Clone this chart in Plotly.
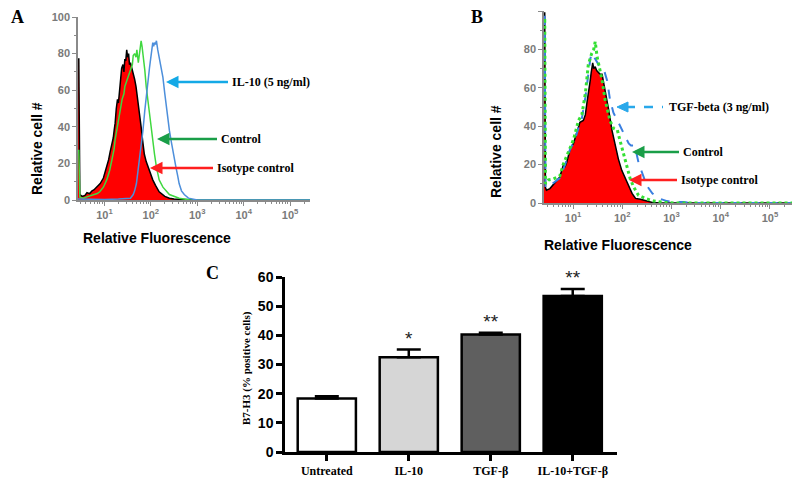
import plotly.graph_objects as go

W, H = 800, 482
# the saved page puts the figure 8px in from the top-left corner (body margin), so all
# layout positions below are given in reference pixels and shifted back by this amount
OFF = 8

# ---- panel A: flow histograms (fluorescence, relative cell #) ----
a_iso_x = [2.69, 2.8, 2.95, 3.3, 3.8, 4.2, 4.8, 5.4, 5.9, 6.9, 8.1, 9.5, 11.2, 12.3, 13.2, 14.5, 15.5, 16.2,
           17.0, 18.0, 19.1, 20.0, 21.4, 22.4, 23.5, 25.1, 26.3, 27.5, 28.8, 30.2, 31.6, 33.1, 34.7, 36.3,
           38.0, 41.7, 44.7, 47.9, 52.5, 56.2, 61.7, 66.1, 72.4, 79.4, 87.1, 97.7, 110, 126, 151, 200, 251,
           316, 479, 700, 1000, 269000]
a_iso_y = [77, 77, 3, 2, 2.5, 4, 3.5, 5, 5.5, 7, 9, 12, 18, 22, 26, 30, 34, 38, 42, 50, 55, 53, 62, 66, 72,
           74, 70, 77, 76, 82, 78, 80, 74, 75, 73, 70, 66, 62, 55, 49, 40, 33, 25, 21, 18, 14, 11, 8, 4.5, 2,
           1, 0.5, 0.3, 0, 0, 0]

a_ctl_x = [2.69, 2.8, 2.95, 3.5, 4.5, 5.9, 7.0, 7.9, 9.5, 11.2, 12.9, 14.5, 16.2, 17.0, 19.1, 21.4, 24.0,
           26.3, 27.5, 30.2, 33.1, 36.3, 40.0, 41.7, 44.7, 47.9, 50.0, 53.7, 56.2, 58.9, 61.7, 64.6, 70.8,
           74.1, 79.4, 87.1, 95.5, 102, 110, 120, 132, 141, 151, 182, 251, 407, 700, 269000]
a_ctl_y = [27, 27, 1.5, 1, 2, 3, 3.5, 4.5, 7, 11, 16, 22, 28, 33, 41, 49, 55, 58, 62, 65, 68, 71, 74, 79,
           80, 78, 82, 75, 80, 85, 87, 84, 76, 71, 62, 53, 44, 38, 30, 25, 18, 15, 11, 7, 3, 1, 0, 0]

a_il10_x = [2.69, 5.0, 10, 20, 30.2, 36.3, 41.7, 44.7, 48.9, 52.5, 56.2, 61.7, 67.6, 74.1, 79.4, 87.1, 93.3,
            97.7, 102, 107, 110, 115, 120, 126, 132, 141, 151, 166, 182, 200, 214, 234, 251, 275, 295, 316,
            347, 380, 407, 457, 525, 646, 776, 1000, 269000]
a_il10_y = [0.5, 0.3, 0.3, 0.5, 0.8, 1, 3, 5, 9, 15, 21, 29, 38, 49, 57, 67, 72, 76, 80, 84, 86, 84, 86, 85,
            87, 82, 78, 72, 67, 58, 51, 42, 38, 32, 27, 22, 18, 13, 9, 5, 3, 1, 0.5, 0, 0]

# ---- panel B ----
b_iso_x = [2.57, 2.66, 2.75, 2.88, 3.39, 3.8, 4.27, 4.8, 5.37, 6.31, 6.9, 7.41, 8.71, 10.2, 11.7, 13.8, 16.2,
           17.8, 19.1, 20.9, 22.4, 23.4, 25.1, 26.3, 28.2, 30.2, 33.1, 35.5, 38.9, 41.7, 44.7, 52.5, 61.7,
           72.4, 83.2, 97.7, 115, 135, 158, 186, 234, 316, 407, 600, 371000]
b_iso_y = [99, 99, 8, 6.7, 7.5, 9, 11, 12, 13.5, 19.5, 19, 21, 28, 31, 36, 42, 43, 46, 52, 58, 64, 68, 73,
           70, 71, 69, 68, 67, 67, 63, 57, 49, 38, 30, 23, 17, 12.6, 8.4, 5, 2.4, 2, 1, 0.3, 0, 0]

b_ctl_x = [2.57, 2.66, 2.75, 3.16, 4.0, 5.37, 6.31, 7.94, 10.2, 12.9, 15.1, 17.8, 20.4, 24.0, 26.3, 28.2,
           30.9, 34.7, 38.9, 44.7, 50.1, 56.2, 66.1, 79.4, 89.1, 105, 123, 145, 170, 214, 295, 437, 708,
           1200, 371000]
b_ctl_y = [95, 95, 10, 12, 12.5, 14, 20, 26, 33, 43, 46, 57, 72, 78, 80, 84, 76, 70, 64, 54, 48, 43, 39, 38,
           33, 26, 19.5, 12.6, 8.4, 4, 2.4, 1, 0.3, 0, 0]

b_tgf_x = [2.57, 2.66, 2.75, 3.39, 5.37, 6.9, 8.71, 10.5, 12.9, 15.1, 17.8, 20.0, 22.4, 24.0, 26.9, 30.2,
           33.1, 41.7, 49.0, 56.2, 66.1, 83.2, 105, 135, 150, 170, 190, 214, 251, 316, 407, 550, 813, 1200,
           1738, 2500, 371000]
b_tgf_y = [97, 97, 8, 9, 13, 20, 28, 32, 39, 44, 55, 66, 75, 78, 76, 74, 72, 70, 64, 54, 47, 42, 37, 31, 30,
           30, 27, 21, 16, 9, 5, 2.4, 1, 0.5, 0.5, 0, 0]

# ---- panel C: bar chart ----
groups = ["Untreated", "IL-10", "TGF-β", "IL-10+TGF-β"]
pct_positive = [18.3, 32.5, 40.3, 53.5]
pct_err = [0.8, 2.6, 0.6, 2.4]
signif = ["", "*", "**", "**"]
bar_colors = ["#ffffff", "#d6d6d6", "#5f5f5f", "#000000"]

decades = [10, 100, 1000, 10000, 100000]
decade_text = ["10<sup>1</sup>", "10<sup>2</sup>", "10<sup>3</sup>", "10<sup>4</sup>", "10<sup>5</sup>"]


def pp(x, y):
    # reference pixel -> paper fraction (margins are zero)
    return (x - OFF) / W, 1 - (y - OFF) / H


def dom_x(a, b):
    return [pp(a, 0)[0], pp(b, 0)[0]]


def dom_y(top, bottom):
    return [pp(0, bottom)[1], pp(0, top)[1]]


GRAY = "#8a8a8a"
tick_gray = dict(family="Liberation Sans", size=11, color="#7a7a7a", weight="bold")

fig = go.Figure()

fig.add_trace(go.Scatter(x=a_iso_x, y=a_iso_y, mode="lines", fill="tozeroy", fillcolor="#ff0000",
                         line=dict(color="black", width=1.5), xaxis="x", yaxis="y"))
fig.add_trace(go.Scatter(x=a_ctl_x, y=a_ctl_y, mode="lines", line=dict(color="#3fd83f", width=1.5),
                         xaxis="x", yaxis="y"))
fig.add_trace(go.Scatter(x=a_il10_x, y=a_il10_y, mode="lines", line=dict(color="#4d8fdb", width=1.5),
                         xaxis="x", yaxis="y"))

fig.add_trace(go.Scatter(x=b_iso_x, y=b_iso_y, mode="lines", fill="tozeroy", fillcolor="#ff0000",
                         line=dict(color="black", width=1.5), xaxis="x2", yaxis="y2"))
fig.add_trace(go.Scatter(x=b_tgf_x, y=b_tgf_y, mode="lines", line=dict(color="#3a7fe0", width=2, dash="dash"),
                         xaxis="x2", yaxis="y2"))
fig.add_trace(go.Scatter(x=b_ctl_x, y=b_ctl_y, mode="lines", line=dict(color="#33e033", width=3, dash="dot"),
                         xaxis="x2", yaxis="y2"))

fig.add_trace(go.Bar(x=groups, y=pct_positive, width=0.71,
                     marker=dict(color=bar_colors, line=dict(color="black", width=2.5)),
                     error_y=dict(type="data", symmetric=False, array=pct_err, arrayminus=[0] * 4,
                                  color="black", thickness=2.5, width=12),
                     xaxis="x3", yaxis="y3"))
starred = [i for i, s in enumerate(signif) if s]
fig.add_trace(go.Scatter(x=[groups[i] for i in starred],
                         y=[pct_positive[i] + pct_err[i] for i in starred],
                         text=[signif[i] for i in starred], mode="text", textposition="top center",
                         textfont=dict(family="Liberation Sans", size=19, color="#222"), cliponaxis=False,
                         xaxis="x3", yaxis="y3"))

hist_x = dict(type="log", showline=True, linecolor=GRAY, linewidth=1.5, ticks="outside", tickcolor=GRAY,
              ticklen=4, tickvals=decades, ticktext=decade_text, tickfont=tick_gray, showgrid=False,
              zeroline=False, automargin=False,
              minor=dict(ticks="outside", ticklen=2, tickcolor=GRAY, dtick="D1", showgrid=False))
hist_y = dict(range=[0, 100], dtick=20, showline=True, linecolor=GRAY, linewidth=1.5, ticks="outside",
              tickcolor=GRAY, ticklen=4, tickfont=tick_gray, showgrid=False, zeroline=False, automargin=False,
              minor=dict(ticks="outside", ticklen=2, tickcolor=GRAY, dtick=10, showgrid=False))

fig.update_layout(
    width=W, height=H, margin=dict(l=0, r=0, t=0, b=0, autoexpand=False), showlegend=False,
    paper_bgcolor="white", plot_bgcolor="white",
    xaxis=dict(hist_x, domain=dom_x(78, 310), range=[0.43, 5.43], anchor="y"),
    yaxis=dict(hist_y, domain=dom_y(17, 200), anchor="x"),
    xaxis2=dict(hist_x, domain=dom_x(544, 798), range=[0.41, 5.57], anchor="y2"),
    yaxis2=dict(hist_y, domain=dom_y(11, 203), anchor="x2"),
    xaxis3=dict(domain=dom_x(285, 617), range=[-0.51, 3.54], anchor="y3", showline=True,
                linecolor="black", linewidth=2.5, ticks="outside", ticklen=6, tickwidth=2.5, tickcolor="black",
                tickfont=dict(family="Liberation Serif", size=12, color="black", weight="bold"),
                showgrid=False, zeroline=False, automargin=False),
    yaxis3=dict(domain=dom_y(277, 452), range=[0, 60], dtick=10, anchor="x3", showline=True,
                linecolor="black", linewidth=2.5, ticks="outside", ticklen=6, tickwidth=2.5, tickcolor="black",
                tickfont=dict(family="Liberation Sans", size=14, color="black", weight="bold"),
                showgrid=False, zeroline=False, automargin=False),
)

ann = []
serif_b = dict(family="Liberation Serif", size=12, color="black", weight="bold")
sans_b = dict(family="Liberation Sans", size=14, color="black", weight="bold")


def add_text(text, x, y, font, angle=0, anchor="center"):
    px_, py_ = pp(x, y)
    ann.append(dict(x=px_, y=py_, xref="paper", yref="paper", text=text, textangle=angle, showarrow=False,
                    xanchor=anchor, yanchor="middle", font=font))


panel_font = dict(family="Liberation Serif", size=18, color="black", weight="bold")
add_text("A", 17, 17, panel_font)
add_text("B", 477, 17, panel_font)
add_text("C", 213, 273, panel_font)

add_text("Relative cell #", 37, 148, sans_b, -90)
add_text("Relative Fluorescence", 157, 238, sans_b)
add_text("Relative cell #", 496, 152, sans_b, -90)
add_text("Relative Fluorescence", 618, 245, sans_b)
add_text("B7-H3 (% positive cells)", 246, 368,
         dict(family="Liberation Serif", size=11, color="black", weight="bold"), -90)

# labelled arrows: head point, label left edge, colour
arrows = [
    ((166, 82), 228, "#14a9e6", "IL-10 (5 ng/ml)"),
    ((157, 139), 217, "#1a9e48", "Control"),
    ((150, 168), 213, "#ff1f1f", "Isotype control"),
    ((632, 152), 679, "#1a9e48", "Control"),
    ((629, 180), 677, "#ff1f1f", "Isotype control"),
]
for (hx, hy), lx, col, text in arrows:
    px_, py_ = pp(hx, hy)
    ann.append(dict(x=px_, y=py_, xref="paper", yref="paper", text=text, showarrow=True, ax=lx - hx, ay=0,
                    xanchor="left", yanchor="middle", borderpad=3, arrowhead=2, arrowsize=1, arrowwidth=2.5,
                    arrowcolor=col, standoff=0, font=serif_b))

add_text("TGF-beta (3 ng/ml)", 667, 107, serif_b, anchor="left")
fig.update_layout(annotations=ann)

# dashed TGF-beta arrow: dashed shaft plus a filled head
x0, y0 = pp(626, 107)
x1, y1 = pp(663, 107)
fig.add_shape(type="line", xref="paper", yref="paper", x0=x0, y0=y0, x1=x1, y1=y1,
              line=dict(color="#29a8ea", width=2.5, dash="dash"))
tip = pp(617, 107)
b1 = pp(628, 102)
b2 = pp(628, 112)
fig.add_shape(type="path", xref="paper", yref="paper",
              path=f"M {tip[0]},{tip[1]} L {b1[0]},{b1[1]} L {b2[0]},{b2[1]} Z",
              fillcolor="#29a8ea", line=dict(color="#29a8ea", width=1))

fig.write_html("out.html")
